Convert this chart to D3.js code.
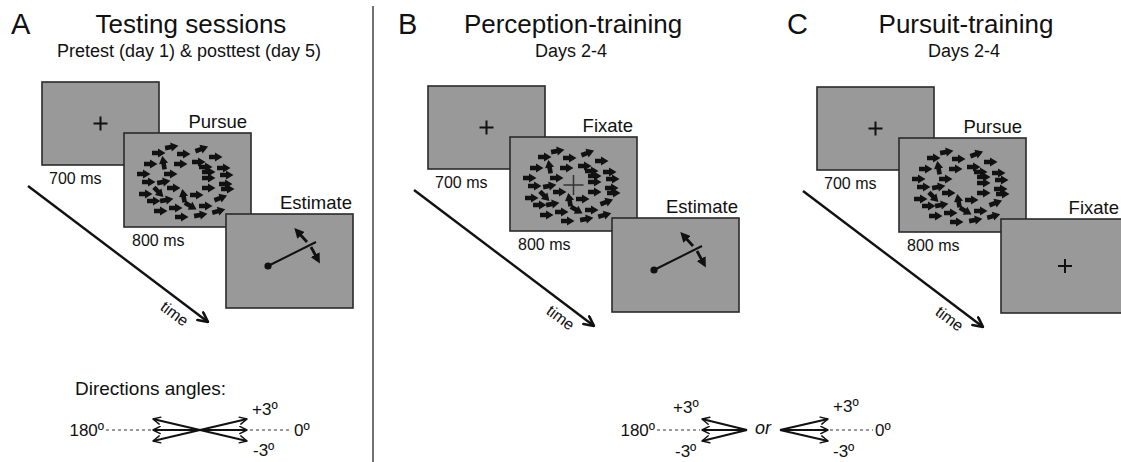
<!DOCTYPE html>
<html><head><meta charset="utf-8">
<script src="https://cdn.jsdelivr.net/npm/d3@7"></script>
<style>
body{margin:0;background:#fff}
svg{display:block}
text{font-family:"Liberation Sans",Arial,sans-serif;fill:#111}
</style>
</head><body>
<svg id="chart" width="1121" height="462"></svg>
<script>
// ---- content ----
const panelLetters = ["A", "B", "C"];
const panelTitles = ["Testing sessions", "Perception-training", "Pursuit-training"];
const panelSubtitles = ["Pretest (day 1) & posttest (day 5)", "Days 2-4", "Days 2-4"];
const screenDurations = ["700 ms", "800 ms"];
const stimulusLabels = ["Pursue", "Fixate", "Pursue"];
const responseLabels = ["Estimate", "Estimate", "Fixate"];
const stimulusFixation = [false, true, false];
const responseTask = ["estimate", "estimate", "fixate"];
const timeLabel = "time";
const directionTitle = "Directions angles:";
const directionOffsets = [3, 0, -3];
const angleTickLabels = ["+3º", "0º", "-3º", "180º"];
const orLabel = "or";
// random-dot kinematogram arrows: [x, y, heading in degrees] relative to aperture centre
const rdkArrows = [
  [-16,-33,-10],[14,-31,-20],[-29,-27,0],[-4,-26,0],[28,-23,0],[-24,-17,-100],
  [11,-18,0],[-37,-16,0],[-7,-16,0],[18,-13,0],[36,-12,0],[21,-8,0],
  [-44,-6,0],[-17,-6,0],[39,-5,0],[21,-2,0],[-39,2,0],[-24,2,-10],
  [38,4,0],[-14,8,0],[21,8,0],[40,9,0],[-42,14,0],[-29,12,45],
  [-4,16,-100],[9,15,0],[33,18,-20],[-34,21,0],[-21,20,-10],[3,26,30],
  [18,26,0],[-27,31,0],[-12,28,0],[13,35,-10],[-6,37,0],[31,31,-15]
];

// ---- layout ----
const svg = d3.select("#chart");
const ink = "#111";
const boxFill = "#999999";
const boxStroke = "#2a2a2a";
const panelOrigin = [[0, 0], [386, 4], [775, 5]];
const titleX = [191, 573, 966];
const letterX = [11, 398, 787];

const defs = svg.append("defs");
function openMarker(id, size, sw) {
  defs.append("marker").attr("id", id)
    .attr("viewBox", "0 0 10 10").attr("refX", 9).attr("refY", 5)
    .attr("markerWidth", size).attr("markerHeight", size)
    .attr("markerUnits", "userSpaceOnUse").attr("orient", "auto")
    .append("path").attr("d", "M1,1 L9,5 L1,9")
    .attr("fill", "none").attr("stroke", ink).attr("stroke-width", sw)
    .attr("stroke-linecap", "round").attr("stroke-linejoin", "round");
}
openMarker("openL", 12, 2.2);
openMarker("openS", 9, 1.6);
defs.append("marker").attr("id", "tri")
  .attr("viewBox", "0 0 10 10").attr("refX", 6).attr("refY", 5)
  .attr("markerWidth", 10).attr("markerHeight", 10)
  .attr("markerUnits", "userSpaceOnUse").attr("orient", "auto")
  .append("path").attr("d", "M0,0 L10,5 L0,10 Z").attr("fill", ink);

// divider
svg.append("line").attr("x1", 373).attr("x2", 373).attr("y1", 6).attr("y2", 462)
  .attr("stroke", "#444").attr("stroke-width", 1.5);

function plus(g, cx, cy, r, sw, col) {
  g.append("path").attr("d", `M${cx - r},${cy} H${cx + r} M${cx},${cy - r} V${cy + r}`)
    .attr("stroke", col || ink).attr("stroke-width", sw).attr("fill", "none");
}
function box(g, x, y, w, h) {
  g.append("rect").attr("x", x).attr("y", y).attr("width", w).attr("height", h)
    .attr("fill", boxFill).attr("stroke", boxStroke).attr("stroke-width", 1.6);
}

const arrowShape = "M-6.5,-2.3 L-0.5,-2.3 L-0.5,-4.6 L7,0 L-0.5,4.6 L-0.5,2.3 L-6.5,2.3 Z";

panelLetters.forEach((L, i) => {
  // headings
  svg.append("text").attr("x", letterX[i]).attr("y", 34).attr("font-size", 29).text(L);
  svg.append("text").attr("x", titleX[i]).attr("y", 33).attr("font-size", 26)
    .attr("text-anchor", "middle").text(panelTitles[i]);
  svg.append("text").attr("x", titleX[i] - 2).attr("y", 57).attr("font-size", 18)
    .attr("text-anchor", "middle").text(panelSubtitles[i]);

  const [ox, oy] = panelOrigin[i];
  const g = svg.append("g").attr("transform", `translate(${ox},${oy})`);

  // time arrow
  const t0 = [28, 186], t1 = [208, 322];
  g.append("line").attr("x1", t0[0]).attr("y1", t0[1]).attr("x2", t1[0]).attr("y2", t1[1])
    .attr("stroke", ink).attr("stroke-width", 2.4).attr("marker-end", "url(#openL)");
  const ang = Math.atan2(t1[1] - t0[1], t1[0] - t0[0]) * 180 / Math.PI;
  const f = 0.86;
  g.append("text")
    .attr("transform", `translate(${t0[0] + f * (t1[0] - t0[0])},${t0[1] + f * (t1[1] - t0[1])}) rotate(${ang})`)
    .attr("x", 0).attr("y", 19).attr("font-size", 16).attr("text-anchor", "middle").text(timeLabel);

  // screen 1: fixation
  box(g, 42, 82, 117, 83);
  plus(g, 100.5, 123.5, 7, 2);
  g.append("text").attr("x", 49).attr("y", 184).attr("font-size", 16).text(screenDurations[0]);

  // screen 2: moving arrows
  const b2 = {x: 124, y: 133, w: 127, h: 94};
  box(g, b2.x, b2.y, b2.w, b2.h);
  g.append("text").attr("x", b2.x + b2.w - 4).attr("y", b2.y - 5).attr("font-size", 18.5)
    .attr("text-anchor", "end").text(stimulusLabels[i]);
  const cx2 = b2.x + b2.w / 2, cy2 = b2.y + b2.h / 2;
  g.append("g").selectAll("path").data(rdkArrows).join("path")
    .attr("d", arrowShape).attr("fill", ink)
    .attr("transform", d => `translate(${cx2 + d[0]},${cy2 + d[1]}) rotate(${d[2]})`);
  if (stimulusFixation[i]) plus(g, cx2, cy2 + 1, 10, 1.5, "#333");
  g.append("text").attr("x", 132).attr("y", 246).attr("font-size", 16).text(screenDurations[1]);

  // screen 3: response
  const b3 = {x: 226, y: 214, w: 127, h: 94};
  box(g, b3.x, b3.y, b3.w, b3.h);
  const lastPanel = i === panelLetters.length - 1;
  g.append("text").attr("x", lastPanel ? 1119 - ox : b3.x + b3.w - 1).attr("y", b3.y - 5)
    .attr("font-size", 18.5).attr("text-anchor", "end").text(responseLabels[i]);
  if (responseTask[i] === "estimate") {
    g.append("line").attr("x1", b3.x + 42).attr("y1", b3.y + 52).attr("x2", b3.x + 90).attr("y2", b3.y + 28)
      .attr("stroke", ink).attr("stroke-width", 2);
    g.append("circle").attr("cx", b3.x + 42).attr("cy", b3.y + 52).attr("r", 3.6).attr("fill", ink);
    g.append("line").attr("x1", b3.x + 81).attr("y1", b3.y + 28).attr("x2", b3.x + 71).attr("y2", b3.y + 17)
      .attr("stroke", ink).attr("stroke-width", 2.8).attr("marker-end", "url(#tri)");
    g.append("line").attr("x1", b3.x + 85).attr("y1", b3.y + 33).attr("x2", b3.x + 92).attr("y2", b3.y + 46)
      .attr("stroke", ink).attr("stroke-width", 2.8).attr("marker-end", "url(#tri)");
  } else {
    plus(g, b3.x + 64, b3.y + 47, 7, 2);
  }
});

// ---- direction diagrams ----
const yOff = d3.scaleLinear().domain([-3, 3]).range([11, -11]);
const baseY = 430;
function fan(vx, tipX) {
  svg.append("g").selectAll("line").data(directionOffsets).join("line")
    .attr("x1", vx).attr("y1", baseY).attr("x2", tipX).attr("y2", d => baseY + yOff(d))
    .attr("stroke", ink).attr("stroke-width", 2).attr("marker-end", "url(#openS)");
}
function dashed(x1, x2) {
  svg.append("line").attr("x1", x1).attr("x2", x2).attr("y1", baseY).attr("y2", baseY)
    .attr("stroke", "#777").attr("stroke-width", 1.3).attr("stroke-dasharray", "3,3");
}
function label(x, y, s, anchor, italic) {
  const t = svg.append("text").attr("x", x).attr("y", y).attr("font-size", 17)
    .attr("text-anchor", anchor || "start").text(s);
  if (italic) t.attr("font-style", "italic").attr("font-size", 18);
}

// panel A
svg.append("text").attr("x", 75).attr("y", 395).attr("font-size", 19).text(directionTitle);
dashed(106, 152); dashed(250, 292);
fan(200, 153); fan(200, 247);
label(104, 436, angleTickLabels[3], "end");
label(294, 436, angleTickLabels[1]);
label(252, 415, angleTickLabels[0]);
label(253, 456, angleTickLabels[2]);

// panel B
dashed(657, 700); dashed(830, 873);
fan(747, 702); fan(780, 828);
label(655, 436, angleTickLabels[3], "end");
label(875, 436, angleTickLabels[1]);
label(673, 413, angleTickLabels[0]);
label(675, 457, angleTickLabels[2]);
label(833, 412, angleTickLabels[0]);
label(833, 457, angleTickLabels[2]);
label(755, 434, orLabel, "start", true);
</script>
</body></html>
